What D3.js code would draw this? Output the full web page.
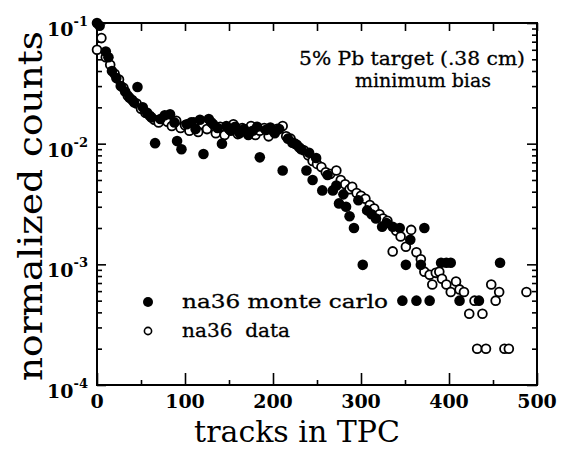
<!DOCTYPE html>
<html>
<head>
<meta charset="utf-8">
<script src="https://cdn.jsdelivr.net/npm/d3@7"></script>
<style>
  body { margin: 0; background: #fff; }
  text { font-family: "DejaVu Serif", "Liberation Serif", serif; fill: #000; }
</style>
</head>
<body>
<svg id="chart" width="561" height="453"></svg>
<script>
// Monte Carlo multiplicity distribution (filled markers)
const mcTracks = [0, 3, 10, 13, 17, 22, 27, 32, 37, 42, 46, 52, 57, 62, 66, 72, 77, 83, 88, 91,
  96, 102, 107, 112, 117, 121, 127, 132, 137, 142, 147, 152, 157, 162, 167, 172, 177, 182, 185, 192,
  197, 202, 207, 211, 217, 222, 227, 232, 238, 241, 245, 249, 256, 262, 268, 272, 275, 280, 283, 287,
  292, 297, 302, 307, 312, 317, 324, 329, 336, 344, 347, 351, 356, 363, 368, 372, 378, 391, 397, 402,
  412, 434, 458];
const mcCounts = [0.100, 0.095, 0.058, 0.052, 0.040, 0.035, 0.030, 0.027, 0.024, 0.022, 0.0295, 0.020, 0.018, 0.0165, 0.0101, 0.0160, 0.0172, 0.0175, 0.0150, 0.0105,
  0.0090, 0.0145, 0.0150, 0.0132, 0.0158, 0.0082, 0.0160, 0.0145, 0.0135, 0.0100, 0.0140, 0.0128, 0.0138, 0.0122, 0.0132, 0.0118, 0.0128, 0.0138, 0.0077, 0.0130,
  0.0136, 0.0122, 0.0132, 0.0060, 0.0110, 0.0102, 0.0098, 0.0090, 0.0060, 0.0084, 0.0050, 0.0076, 0.0041, 0.0055, 0.0041, 0.0045, 0.0032, 0.0038, 0.0030, 0.0025,
  0.0020, 0.0034, 0.00099, 0.0028, 0.0026, 0.0024, 0.00205, 0.0022, 0.00205, 0.0020, 0.0005, 0.00099, 0.0016, 0.0005, 0.00099, 0.0020, 0.0005, 0.00103, 0.00103, 0.00103,
  0.0005, 0.0005, 0.00103];

// Measured multiplicity distribution (open markers)
const dataTracks = [0, 5, 10, 15, 20, 25, 30, 35, 40, 45, 50, 55, 60, 65, 70, 75, 80, 85, 90, 95,
  100, 105, 110, 115, 120, 125, 130, 135, 140, 145, 150, 155, 160, 165, 170, 175, 180, 185, 190, 195,
  200, 205, 211, 215, 220, 225, 230, 235, 240, 245, 250, 255, 260, 265, 272, 277, 282, 287, 290, 295,
  300, 305, 310, 315, 321, 325, 330, 336, 340, 345, 351, 357, 363, 368, 372, 378, 381, 385, 389, 392,
  397, 402, 408, 412, 417, 423, 429, 432, 438, 442, 448, 453, 457, 463, 468, 488];
const dataCounts = [0.060, 0.075, 0.052, 0.045, 0.038, 0.034, 0.029, 0.025, 0.023, 0.0215, 0.0195, 0.018, 0.0170, 0.0158, 0.0150, 0.0162, 0.0152, 0.0140, 0.0155, 0.0135,
  0.0142, 0.0128, 0.0150, 0.0125, 0.0145, 0.0132, 0.0150, 0.0122, 0.0138, 0.0118, 0.0132, 0.0145, 0.0120, 0.0135, 0.0125, 0.0140, 0.0118, 0.0128, 0.0135, 0.0115,
  0.0128, 0.0133, 0.0140, 0.0115, 0.0110, 0.0100, 0.0093, 0.0088, 0.0080, 0.0072, 0.0068, 0.0064, 0.0058, 0.0056, 0.0060, 0.0050, 0.0046, 0.0042, 0.0044, 0.0039,
  0.0037, 0.0035, 0.0031, 0.0029, 0.0026, 0.0024, 0.0023, 0.00128, 0.0019, 0.0017, 0.0014, 0.00193, 0.00126, 0.0011, 0.00087, 0.00082, 0.00068, 0.00085, 0.00087, 0.00076,
  0.00068, 0.00059, 0.00072, 0.00062, 0.00059, 0.00039, 0.0005, 0.0002, 0.00039, 0.0002, 0.00068, 0.0005, 0.00059, 0.0002, 0.0002, 0.00059];

const xTickValues = [0, 100, 200, 300, 400, 500];
const xMinorValues = [50, 150, 250, 350, 450];
const yDecades = [-1, -2, -3, -4];
const titleLines = ["5% Pb target (.38 cm)", "minimum bias"];
const legendLabels = ["na36 monte carlo", "na36  data"];
const xTitle = "tracks in TPC";
const yTitle = "normalized counts";

const svg = d3.select("#chart");
const plotLeft = 97, plotRight = 537, plotTop = 23, plotBottom = 385;

const x = d3.scaleLinear().domain([0, 500]).range([plotLeft, plotRight]);
const y = d3.scaleLog().domain([1e-4, 1e-1]).range([plotBottom, plotTop]);

const yMajor = yDecades.map(d => Math.pow(10, d));
const yMinor = [];
[-4, -3, -2].forEach(d => { for (let k = 2; k <= 9; k++) yMinor.push(k * Math.pow(10, d)); });

function ticks(axis, tx, ty) {
  const g = svg.append("g").attr("transform", `translate(${tx},${ty})`).call(axis);
  g.select(".domain").remove();
  g.selectAll(".tick line").attr("stroke", "#000").attr("stroke-width", 1.6);
  return g;
}

// inward ticks on all four sides
ticks(d3.axisBottom(x).tickValues(xTickValues).tickSize(-12).tickFormat(""), 0, plotBottom);
ticks(d3.axisBottom(x).tickValues(xMinorValues).tickSize(-5).tickFormat(""), 0, plotBottom);
ticks(d3.axisTop(x).tickValues(xTickValues.concat(xMinorValues)).tickSize(-8).tickFormat(""), 0, plotTop);
ticks(d3.axisLeft(y).tickValues(yMajor).tickSize(-9).tickFormat(""), plotLeft, 0);
ticks(d3.axisLeft(y).tickValues(yMinor).tickSize(-5).tickFormat(""), plotLeft, 0);
ticks(d3.axisRight(y).tickValues(yMajor).tickSize(-10).tickFormat(""), plotRight, 0);
ticks(d3.axisRight(y).tickValues(yMinor).tickSize(-5).tickFormat(""), plotRight, 0);

// frame
svg.append("rect")
  .attr("x", plotLeft).attr("y", plotTop)
  .attr("width", plotRight - plotLeft).attr("height", plotBottom - plotTop)
  .attr("fill", "none").attr("stroke", "#000").attr("stroke-width", 2);

// x tick labels
svg.append("g").selectAll("text").data(xTickValues).join("text")
  .attr("x", d => x(d)).attr("y", plotBottom + 23)
  .attr("text-anchor", "middle")
  .attr("font-size", 19).attr("font-weight", "bold")
  .text(d => d);

// y tick labels: 10 with exponent
const yl = svg.append("g").selectAll("text").data(yDecades).join("text")
  .attr("x", 88).attr("y", d => y(Math.pow(10, d)) + 13)
  .attr("text-anchor", "end")
  .attr("font-size", 19).attr("font-weight", "bold");
yl.append("tspan").text("10");
yl.append("tspan").attr("dy", -10).attr("font-size", 13).text(d => String(d));

// axis titles
svg.append("text")
  .attr("x", x(250) - 20).attr("y", 442)
  .attr("text-anchor", "middle")
  .attr("font-size", 30)
  .text(xTitle);

svg.append("text")
  .attr("transform", `translate(42,${(plotTop + plotBottom) / 2 + 2}) rotate(-90)`)
  .attr("text-anchor", "middle")
  .attr("font-size", 34)
  .attr("textLength", 350).attr("lengthAdjust", "spacingAndGlyphs")
  .text(yTitle);

// annotation
svg.append("text")
  .attr("x", 412).attr("y", 65)
  .attr("text-anchor", "middle")
  .attr("font-size", 19)
  .attr("stroke", "#000").attr("stroke-width", 0.3)
  .attr("textLength", 226).attr("lengthAdjust", "spacingAndGlyphs")
  .text(titleLines[0]);
svg.append("text")
  .attr("x", 423).attr("y", 87)
  .attr("text-anchor", "middle")
  .attr("font-size", 19)
  .attr("stroke", "#000").attr("stroke-width", 0.3)
  .text(titleLines[1]);

// markers: open circles first, filled on top
svg.append("g").selectAll("circle").data(dataTracks.map((t, i) => [t, dataCounts[i]])).join("circle")
  .attr("cx", d => x(d[0])).attr("cy", d => y(d[1])).attr("r", 4.4)
  .attr("fill", "#fff").attr("stroke", "#000").attr("stroke-width", 1.8);

svg.append("g").selectAll("circle").data(mcTracks.map((t, i) => [t, mcCounts[i]])).join("circle")
  .attr("cx", d => x(d[0])).attr("cy", d => y(d[1])).attr("r", 5.3)
  .attr("fill", "#000");

// legend
const legendWidths = [206, 108];
const legend = svg.append("g");
legend.append("circle").attr("cx", 148).attr("cy", 302).attr("r", 5).attr("fill", "#000");
legend.append("circle").attr("cx", 148).attr("cy", 331).attr("r", 3.6)
  .attr("fill", "#fff").attr("stroke", "#000").attr("stroke-width", 1.6);
legend.selectAll("text").data(legendLabels).join("text")
  .attr("x", 182).attr("y", (d, i) => 308 + i * 29)
  .attr("font-size", 18)
  .attr("stroke", "#000").attr("stroke-width", 0.3)
  .attr("xml:space", "preserve")
  .attr("textLength", (d, i) => legendWidths[i]).attr("lengthAdjust", "spacingAndGlyphs")
  .text(d => d);
</script>
</body>
</html>
